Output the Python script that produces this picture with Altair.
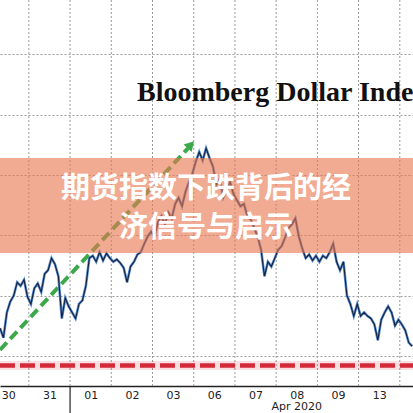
import altair as alt
import pandas as pd

# Trading sessions on the time axis (one band per session) and the month caption
day_labels = ["30", "31", "01", "02", "03", "06", "07", "08", "09", "13", "14"]
month_label = "Apr 2020"
month_start_session = 2          # Apr 01 is the third session
month_label_session = 7.5        # caption sits under "08"

# Bloomberg Dollar Index, sampled every 1/12 of a session from session 0.3
series_start = 0.3
series_step = 1 / 12
index_values = [
    1242.3, 1241.5, 1243.6, 1244.5, 1245.0, 1246.1, 1245.8, 1246.3, 1244.9, 1244.3,
    1245.6, 1246.0, 1245.3, 1246.8, 1247.1, 1248.1, 1247.6, 1246.6, 1243.1, 1244.8,
    1244.1, 1243.6, 1243.1, 1244.3, 1244.6, 1245.8, 1248.1, 1248.3, 1247.8, 1248.6,
    1247.9, 1248.5, 1248.1, 1247.8, 1248.0, 1247.7, 1247.3, 1246.1, 1247.4, 1247.8,
    1248.4, 1248.6, 1249.3, 1249.9, 1250.3, 1249.8, 1251.1, 1251.6, 1250.9, 1251.9,
    1251.4, 1252.6, 1253.1, 1252.4, 1253.6, 1254.4, 1255.1, 1256.1, 1256.9, 1256.2,
    1257.2, 1256.4, 1255.7, 1254.2, 1254.7, 1253.1, 1253.7, 1254.4, 1253.4, 1252.9,
    1252.4, 1252.6, 1251.6, 1251.3, 1250.6, 1249.9, 1248.8, 1246.6, 1247.8, 1247.4,
    1248.1, 1248.8, 1249.1, 1249.8, 1250.6, 1250.9, 1251.4, 1249.9, 1248.9, 1248.1,
    1248.4, 1247.9, 1248.3, 1247.8, 1248.3, 1248.1, 1248.6, 1249.3, 1247.8, 1247.1,
    1247.8, 1245.0, 1244.3, 1243.3, 1244.3, 1243.3, 1243.6, 1243.3, 1243.1, 1242.6,
    1241.3, 1243.0, 1243.6, 1244.1, 1243.6, 1242.5, 1243.0, 1242.6, 1242.1, 1241.1,
    1240.8,
]

# Horizontal reference levels (index points) and the support line
grid_levels = [1240, 1245, 1250, 1255, 1260, 1265]
support_level = 1239.2

# Up-trend arrow: start and end (session, index level)
trend_sessions = [0.3, 4.86]
trend_levels = [1240.5, 1257.2]
arrow_tip = (4.93, 1257.5)

title_text = "Bloomberg Dollar Index"
banner_lines = ["期货指数下跌背后的经", "济信号与启示"]

W, H = 413, 386

prices = pd.DataFrame({
    "t": [series_start + series_step * i for i in range(len(index_values))],
    "v": index_values,
})
boundaries = pd.DataFrame({"t": list(range(1, len(day_labels)))})
support = pd.DataFrame({"t": [0.3, 10.32], "v": [support_level, support_level]})
trend = pd.DataFrame({"t": trend_sessions, "v": trend_levels})
tip = pd.DataFrame({"t": [arrow_tip[0]], "v": [arrow_tip[1]]})
month_df = pd.DataFrame({"t": [month_label_session], "label": [month_label]})
sep_df = pd.DataFrame({"t": [month_start_session]})
one = pd.DataFrame({"a": [0]})

label_array = "[" + ",".join('"%s"' % d for d in day_labels) + "]"

X = alt.X(
    "t:Q",
    scale=alt.Scale(domain=[0.3, 10.32], nice=False, zero=False),
    axis=alt.Axis(
        values=[i + 0.5 for i in range(len(day_labels))],
        labelExpr=label_array + "[floor(datum.value)]",
        grid=False, ticks=False, title=None,
        domainColor="#222222", domainWidth=1.5,
        labelFont="DejaVu Sans", labelFontSize=11, labelColor="#222222",
        labelPadding=3,
    ),
)
Y = alt.Y(
    "v:Q",
    scale=alt.Scale(domain=[1237.5, 1269.5], nice=False, zero=False),
    axis=alt.Axis(
        values=grid_levels, grid=True, gridDash=[2, 2], gridColor="#9a9a9a",
        gridWidth=1, labels=False, ticks=False, domain=False, title=None,
    ),
)

vgrid = alt.Chart(boundaries).mark_rule(
    color="#9a9a9a", strokeDash=[2, 2], strokeWidth=1
).encode(x=X)

title = alt.Chart(one).mark_text(
    text=title_text, font="Liberation Serif", fontWeight="bold", fontSize=28,
    align="left", baseline="alphabetic", color="#111111",
).encode(x=alt.value(137), y=alt.value(101))

support_glow = alt.Chart(support).mark_line(
    color="#d42a3a", strokeWidth=9, opacity=0.15, clip=True
).encode(x=X, y=Y)
support_line = alt.Chart(support).mark_line(
    color="#d42a3a", strokeWidth=4.5, strokeDash=[15, 5], clip=True
).encode(x=X, y=Y)

trend_line = alt.Chart(trend).mark_line(
    color="#3da84a", strokeWidth=4, strokeDash=[10, 5], clip=True
).encode(x=X, y=Y)
trend_head = alt.Chart(tip).mark_point(
    shape="triangle-up", filled=True, color="#3da84a", size=120, angle=43, opacity=1
).encode(x=X, y=Y)

price_under = alt.Chart(prices).mark_line(
    color="#5b8fd0", strokeWidth=2.6, clip=True
).encode(x=X, y=Y)
price_line = alt.Chart(prices).mark_line(
    color="#14213d", strokeWidth=1.1, clip=True
).encode(x=X, y=Y)

separator = alt.Chart(sep_df).mark_rule(color="#222222", strokeWidth=1.2).encode(
    x=X, y=alt.value(H), y2=alt.value(H + 27)
)
month_text = alt.Chart(month_df).mark_text(
    font="DejaVu Sans", fontSize=11, color="#222222", baseline="middle"
).encode(x=X, y=alt.value(407), text="label:N")

banner = alt.Chart(one).mark_rect(color="#e8784f", opacity=0.62).encode(
    x=alt.value(0), x2=alt.value(W), y=alt.value(158), y2=alt.value(253)
)
banner_text_1 = alt.Chart(one).mark_text(
    text=banner_lines[0], font="Noto Sans CJK SC", fontWeight="bold", fontSize=29,
    color="white", align="center", baseline="middle",
).encode(x=alt.value(206), y=alt.value(189))
banner_text_2 = alt.Chart(one).mark_text(
    text=banner_lines[1], font="Noto Sans CJK SC", fontWeight="bold", fontSize=29,
    color="white", align="center", baseline="middle",
).encode(x=alt.value(206), y=alt.value(228))

chart = alt.layer(
    vgrid, title, support_glow, support_line, trend_line, price_under, price_line,
    trend_head, separator, month_text, banner, banner_text_1, banner_text_2,
).properties(
    width=W, height=H,
    autosize=alt.AutoSizeParams(type="none"),
    padding={"left": 0, "right": 0, "top": 0, "bottom": 27},
    background="white",
).configure_view(stroke=None)

chart.save("out.html", embed_options={"renderer": "svg", "actions": False})
